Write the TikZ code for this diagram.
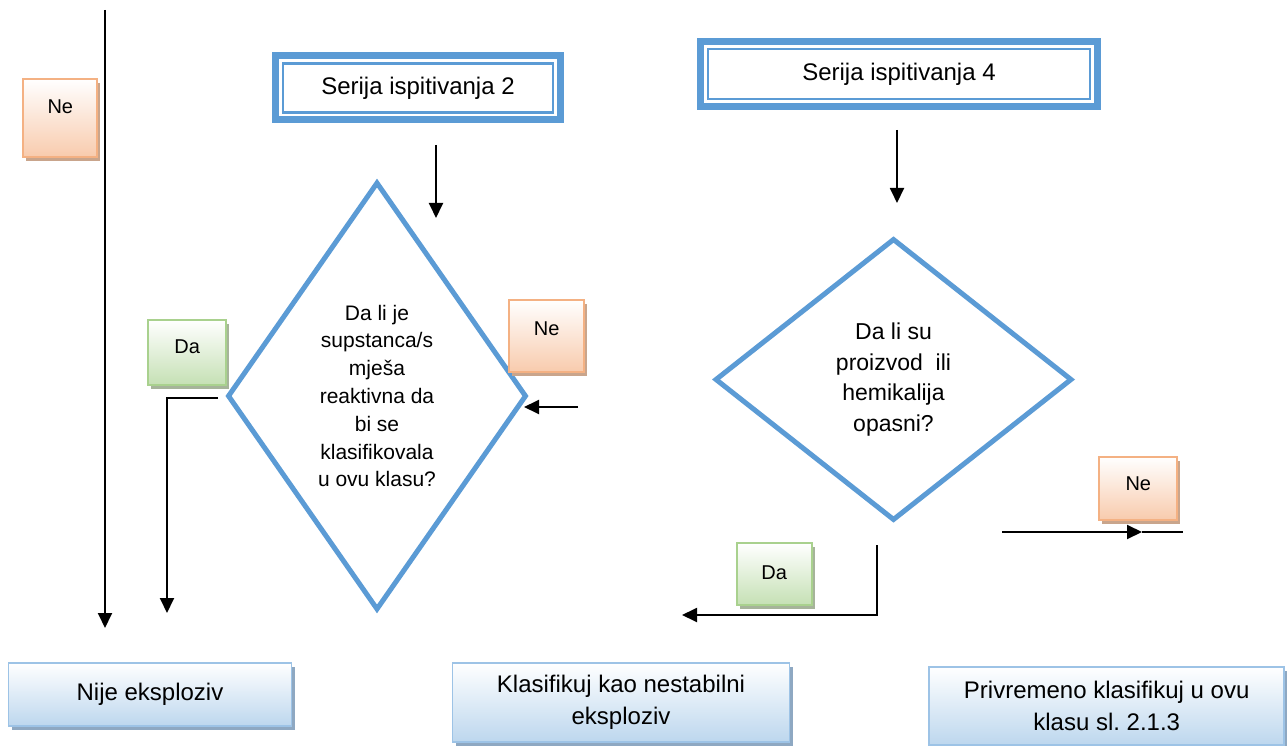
\documentclass[tikz,border=0pt]{standalone}
\usepackage{fontspec}
\setmainfont{Liberation Sans}
\usetikzlibrary{arrows.meta,shapes.geometric,shadows}
\frenchspacing

\definecolor{frameblue}{HTML}{5B9BD5}
\definecolor{peachedge}{HTML}{F4B183}
\definecolor{peachfill}{HTML}{F8CBAD}
\definecolor{peachshade}{HTML}{C9A58C}
\definecolor{greenedge}{HTML}{A9D18E}
\definecolor{greenfill}{HTML}{C5E0B4}
\definecolor{greenshade}{HTML}{A6B49A}
\definecolor{skyedge}{HTML}{9DC3E6}
\definecolor{skyfill}{HTML}{BDD7EE}
\definecolor{skyshade}{HTML}{8EA8C2}

\begin{document}
\begin{tikzpicture}[x=1pt, y=-1pt,
  tagbase/.style={rectangle, line width=1.8pt, inner sep=0pt,
    font=\fontsize{20}{24}\selectfont, text height=14.4pt},
  peachtag/.style={tagbase, draw=peachedge, top color=white, bottom color=peachfill,
    drop shadow={shadow xshift=3pt, shadow yshift=-4pt, fill=peachshade, opacity=1}},
  greentag/.style={tagbase, draw=greenedge, top color=white, bottom color=greenfill,
    drop shadow={shadow xshift=3pt, shadow yshift=-4pt, fill=greenshade, opacity=1}},
  outcome/.style={rectangle, line width=1.8pt, inner sep=0pt, draw=skyedge,
    top color=white, bottom color=skyfill, align=center,
    font=\fontsize{24}{32}\selectfont,
    drop shadow={shadow xshift=3pt, shadow yshift=-4.5pt, fill=skyshade, opacity=1}},
  seriesbox/.style={rectangle, draw=frameblue, line width=7pt, inner sep=0pt,
    font=\fontsize{24}{28}\selectfont},
  seriesinner/.style={draw=frameblue, line width=2.2pt},
  decision/.style={diamond, draw=frameblue, line width=5pt, inner sep=0pt, align=center},
  flowarrow/.style={line width=1.9pt, -{Triangle[length=15pt,width=14pt]}},
  plainline/.style={line width=1.9pt}
]
\useasboundingbox (0,0) rectangle (1287,746);
\fill[white] (0,0) rectangle (1287,746);

% test series headers
\node[seriesbox, minimum width=285pt, minimum height=64pt] (s2) at (418,88) {Serija ispitivanja 2};
\draw[seriesinner] ([shift={(11,11)}]s2.north west) rectangle ([shift={(-11,-11)}]s2.south east);
\node[seriesbox, minimum width=397pt, minimum height=65pt] (s4) at (899,74) {Serija ispitivanja 4};
\draw[seriesinner] ([shift={(11,11)}]s4.north west) rectangle ([shift={(-11,-11)}]s4.south east);

% decisions
\node[decision, aspect=0.5, minimum width=299pt, minimum height=428pt,
  font=\fontsize{21}{27.8}\selectfont] (q1) at (377,396)
  {Da li je\\supstanca/s\\mješa\\reaktivna da\\bi se\\klasifikovala\\u ovu klasu?};
\node[decision, aspect=1, minimum width=357pt, minimum height=282pt,
  font=\fontsize{23}{30.7}\selectfont] (q2) at (893.5,379.5)
  {Da li su\\proizvod\ \ ili\\hemikalija\\opasni?};

% yes / no tags
\node[peachtag, minimum width=74pt, minimum height=78pt, text depth=23pt] (ne1) at (60.3,118.2) {Ne};
\node[greentag, minimum width=78pt, minimum height=65pt, text depth=11.6pt] (da1) at (187.2,352.5) {Da};
\node[peachtag, minimum width=75pt, minimum height=72pt, text depth=15pt] (ne2) at (546.7,335.8) {Ne};
\node[greentag, minimum width=75pt, minimum height=62pt, text depth=3pt] (da2) at (774.2,574.2) {Da};
\node[peachtag, minimum width=78pt, minimum height=63pt, text depth=10pt] (ne3) at (1138.3,488.3) {Ne};

% outcomes
\node[outcome, minimum width=283pt, minimum height=63pt] (nije) at (150,694.3) {Nije eksploziv};
\node[outcome, minimum width=337pt, minimum height=79pt] (klas) at (621,702.2) {Klasifikuj kao nestabilni\\eksploziv};
\node[outcome, minimum width=355pt, minimum height=78pt] (priv) at (1106.7,705.8) {Privremeno klasifikuj u ovu\\klasu sl. 2.1.3};

% connector end points
\coordinate (la) at (105,10);     \coordinate (lb) at (105,628);
\coordinate (s2a) at (436,145);   \coordinate (s2b) at (436,218);
\coordinate (s4a) at (897,130);   \coordinate (s4b) at (897,203);
\coordinate (da1a) at (218,398);  \coordinate (da1b) at (167,613);
\coordinate (ne2a) at (578,407);  \coordinate (ne2b) at (524,407);
\coordinate (da2a) at (877,545);  \coordinate (da2b) at (682,615);
\coordinate (ne3a) at (1002,532); \coordinate (ne3m) at (1142,532); \coordinate (ne3b) at (1183,532);

% connectors
\draw[flowarrow] (la) -- (lb);
\draw[flowarrow] (s2a) -- (s2b);
\draw[flowarrow] (s4a) -- (s4b);
\draw[flowarrow] (da1a) -| (da1b);
\draw[flowarrow] (ne2a) -- (ne2b);
\draw[flowarrow] (da2a) |- (da2b);
\draw[flowarrow] (ne3a) -- (ne3m);
\draw[plainline] (ne3m) -- (ne3b);
\end{tikzpicture}
\end{document}
